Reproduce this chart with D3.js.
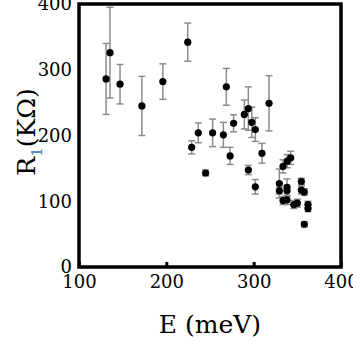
<!DOCTYPE html>
<html>
<head>
<meta charset="UTF-8" />
<script src="https://d3js.org/d3.v7.min.js"></script>
<style>
  body { margin: 0; background: #fff; }
  svg { display: block; }
  svg text { font-family: "DejaVu Serif", "Liberation Serif", serif; }
  .tick text { font-size: 18px; fill: #000; }
  .axis path { display: none; }
  .axis line { stroke: #000; stroke-width: 3; }
</style>
</head>
<body>
<svg width="353" height="343"></svg>
<script>
  // energie (meV), R1 (kOhm), demi-barre d'erreur
  const energy = [131, 135.5, 147, 172, 196, 224.5, 229, 236.6, 245, 253, 265.3, 268.7, 273, 277,
    289.3, 293.9, 293.9, 297.8, 301.9, 301.9, 309.5, 317.6, 329.4, 329.4, 333.6, 333.6, 338.5,
    342.4, 338.2, 338.2, 338.2, 345.9, 350, 354.6, 354.6, 358, 358, 362.2, 362.2];
  const r1 = [286, 326, 278, 245, 282, 342, 182, 204, 143, 204, 201, 274, 169, 218.5,
    232, 241, 147.5, 220, 209, 122, 173, 249, 127, 116, 153, 101, 161,
    166, 121, 116, 102, 95, 97, 130, 117, 114, 65, 95, 89];
  const err = [54, 69, 30, 45, 27, 29, 10, 15, 4.5, 21, 19, 28, 13, 13,
    22, 33, 7, 23, 18, 11, 15, 42, 22, 5, 10, 6, 10,
    10, 13, 8, 7, 6, 6, 5, 6, 5, 4, 5, 5];
  const xTicks = [100, 200, 300, 400];
  const yTicks = [0, 100, 200, 300, 400];

  const svg = d3.select("svg");
  const mLeft = 79, mRight = 341, mTop = 4, mBottom = 267;

  const x = d3.scaleLinear().domain([100, 400]).range([mLeft, mRight]);
  const y = d3.scaleLinear().domain([0, 400]).range([mBottom, mTop]);

  const data = energy.map((e, i) => ({ e: e, r: r1[i], s: err[i] }));

  // axes
  svg.append("g")
    .attr("class", "axis")
    .attr("transform", `translate(0,${mBottom})`)
    .call(d3.axisBottom(x).tickValues(xTicks).tickSizeInner(-5).tickSizeOuter(0).tickPadding(8))
    .attr("font-family", null);

  svg.append("g")
    .attr("class", "axis")
    .attr("transform", `translate(${mLeft},0)`)
    .call(d3.axisLeft(y).tickValues(yTicks).tickSize(0).tickPadding(7))
    .attr("font-family", null);

  // barres d'erreur
  const eb = svg.append("g").attr("stroke", "#8c8c8c").attr("stroke-width", 1.5);
  data.forEach(d => {
    const cx = x(d.e);
    eb.append("line").attr("x1", cx).attr("x2", cx).attr("y1", y(d.r + d.s)).attr("y2", y(d.r - d.s));
    eb.append("line").attr("x1", cx - 3.5).attr("x2", cx + 3.5).attr("y1", y(d.r + d.s)).attr("y2", y(d.r + d.s));
    eb.append("line").attr("x1", cx - 3.5).attr("x2", cx + 3.5).attr("y1", y(d.r - d.s)).attr("y2", y(d.r - d.s));
  });

  // points
  svg.append("g").selectAll("circle")
    .data(data)
    .enter()
    .append("circle")
    .attr("cx", d => x(d.e))
    .attr("cy", d => y(d.r))
    .attr("r", 3.6)
    .attr("fill", "#000");

  // cadre
  svg.append("rect")
    .attr("x", mLeft).attr("y", mTop)
    .attr("width", mRight - mLeft).attr("height", mBottom - mTop)
    .attr("fill", "none").attr("stroke", "#000").attr("stroke-width", 3.5);

  // titres
  svg.append("text")
    .attr("x", (mLeft + mRight) / 2)
    .attr("y", 333)
    .attr("text-anchor", "middle")
    .style("font-size", "25px")
    .text("E (meV)");

  const yl = svg.append("text")
    .attr("transform", "translate(35,132) rotate(-90)")
    .attr("text-anchor", "middle")
    .style("font-size", "25px");
  yl.append("tspan").text("R");
  yl.append("tspan").attr("dy", 7).style("font-size", "15px").attr("fill", "#3a76b0").text("1");
  yl.append("tspan").attr("dy", -7).text("(KΩ)");
</script>
</body>
</html>
